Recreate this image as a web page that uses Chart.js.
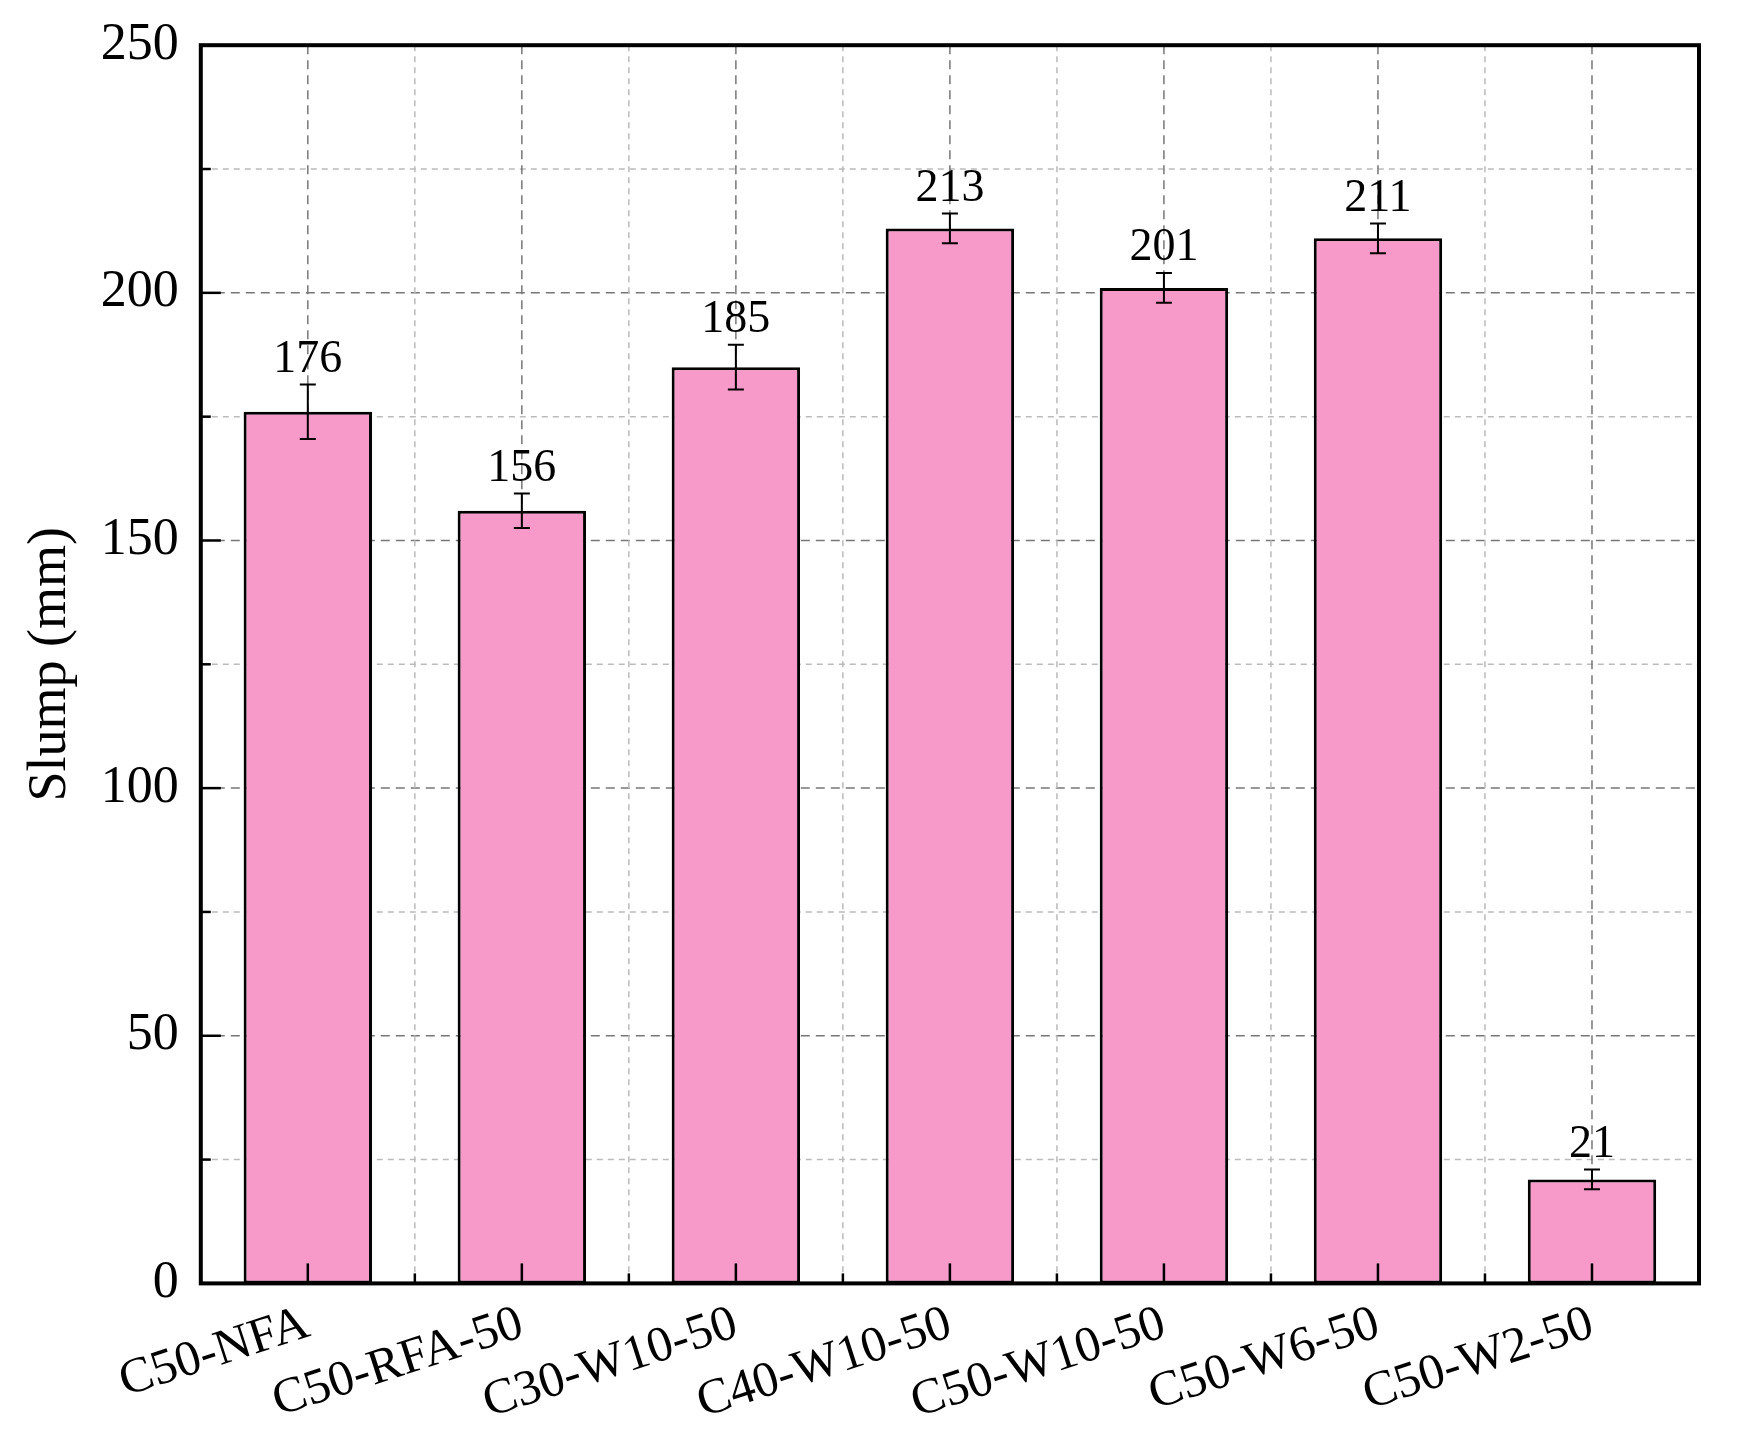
<!DOCTYPE html>
<html>
<head>
<meta charset="utf-8">
<script src="https://cdn.jsdelivr.net/npm/chart.js@4.4.0/dist/chart.umd.min.js"></script>
<style>
  body { margin: 0; background: #fff; }
  #wrap { width: 1744px; height: 1446px; }
</style>
</head>
<body>
<div id="wrap"><canvas id="c"></canvas></div>
<script>
const categories = ["C50-NFA", "C50-RFA-50", "C30-W10-50", "C40-W10-50", "C50-W10-50", "C50-W6-50", "C50-W2-50"];
const slump = [176, 156, 185, 213, 201, 211, 21];
const slumpErr = [5.5, 3.5, 4.5, 3, 3, 3, 2];
const yTicks = [0, 50, 100, 150, 200, 250];

const FONT = "'Liberation Serif', serif";

// grid, ticks, error bars and value labels
const extras = {
  id: "extras",
  beforeDatasetsDraw(chart) {
    const { ctx, chartArea: a, scales: { x, y } } = chart;
    ctx.save();
    ctx.lineWidth = 1.5;
    for (let v = 0; v <= 250; v += 25) {
      const py = y.getPixelForValue(v);
      ctx.strokeStyle = v % 50 === 0 ? "#777" : "#bbb";
      ctx.setLineDash(v % 50 === 0 ? [9, 6] : [6, 5]);
      ctx.beginPath(); ctx.moveTo(a.left, py); ctx.lineTo(a.right, py); ctx.stroke();
    }
    const step = x.getPixelForValue(1) - x.getPixelForValue(0);
    for (let i = 0; i < categories.length; i++) {
      const c = x.getPixelForValue(i);
      ctx.strokeStyle = "#777"; ctx.setLineDash([9, 6]);
      ctx.beginPath(); ctx.moveTo(c, a.top); ctx.lineTo(c, a.bottom); ctx.stroke();
      if (i > 0) {
        ctx.strokeStyle = "#bbb"; ctx.setLineDash([6, 5]);
        ctx.beginPath(); ctx.moveTo(c - step / 2, a.top); ctx.lineTo(c - step / 2, a.bottom); ctx.stroke();
      }
    }
    ctx.restore();
  },
  afterDatasetsDraw(chart) {
    const { ctx, chartArea: a, scales: { x, y } } = chart;
    ctx.save();
    ctx.strokeStyle = "#000";
    ctx.setLineDash([]);
    ctx.lineWidth = 2.5;
    const step = x.getPixelForValue(1) - x.getPixelForValue(0);
    for (let i = 0; i < categories.length; i++) {
      const c = x.getPixelForValue(i);
      ctx.beginPath(); ctx.moveTo(c, a.bottom); ctx.lineTo(c, a.bottom - 20); ctx.stroke();
      if (i > 0) {
        ctx.beginPath(); ctx.moveTo(c - step / 2, a.bottom); ctx.lineTo(c - step / 2, a.bottom - 10); ctx.stroke();
      }
    }
    for (let v = 0; v <= 250; v += 25) {
      const py = y.getPixelForValue(v);
      ctx.beginPath(); ctx.moveTo(a.left, py); ctx.lineTo(a.left + (v % 50 === 0 ? 20 : 10), py); ctx.stroke();
    }
    ctx.lineWidth = 2;
    ctx.fillStyle = "#000";
    ctx.font = "46px " + FONT;
    ctx.textAlign = "center";
    ctx.textBaseline = "bottom";
    slump.forEach((v, i) => {
      const c = x.getPixelForValue(i);
      const top = y.getPixelForValue(v + slumpErr[i]);
      const bot = y.getPixelForValue(v - slumpErr[i]);
      ctx.beginPath();
      ctx.moveTo(c, top); ctx.lineTo(c, bot);
      ctx.moveTo(c - 8, top); ctx.lineTo(c + 8, top);
      ctx.moveTo(c - 8, bot); ctx.lineTo(c + 8, bot);
      ctx.stroke();
      ctx.fillText(String(v), c, top - 2);
    });
    ctx.lineWidth = 4;
    ctx.strokeRect(a.left, a.top, a.right - a.left, a.bottom - a.top);
    ctx.restore();
  }
};

new Chart(document.getElementById("c"), {
  type: "bar",
  data: {
    labels: categories,
    datasets: [{
      data: slump,
      backgroundColor: "#f799c9",
      borderColor: "#000",
      borderWidth: 3,
      borderSkipped: false,
      categoryPercentage: 1,
      barPercentage: 0.6
    }]
  },
  plugins: [extras],
  options: {
    responsive: true,
    maintainAspectRatio: false,
    animation: false,
    layout: { padding: { left: 14, right: 45, top: 28, bottom: 10 } },
    plugins: { legend: { display: false }, tooltip: { enabled: false } },
    scales: {
      x: {
        grid: { display: false },
        border: { display: false },
        ticks: {
          color: "#000",
          font: { family: FONT, size: 50 },
          minRotation: 18,
          maxRotation: 18,
          autoSkip: false
        }
      },
      y: {
        min: 0,
        max: 250,
        afterBuildTicks(axis) { axis.ticks = yTicks.map(v => ({ value: v })); },
        grid: { display: false },
        border: { display: false },
        ticks: { color: "#000", font: { family: FONT, size: 52 }, padding: 14 },
        title: { display: true, text: "Slump (mm)", color: "#000", font: { family: FONT, size: 54 } }
      }
    }
  }
});
</script>
</body>
</html>
